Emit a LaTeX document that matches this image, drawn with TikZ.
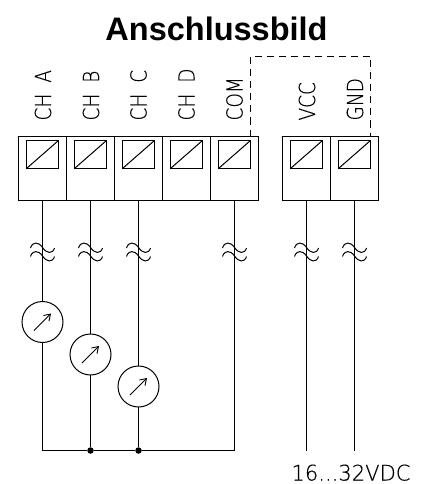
\documentclass[tikz,border=0pt]{standalone}
\usepackage{fontspec}
\setmainfont{Liberation Sans}
\newfontfamily\cadfont[FakeStretch=0.84,FakeBold=0.25]{DejaVu Sans ExtraLight}
\newfontfamily\supplyfont[FakeStretch=0.98,FakeBold=0.25]{DejaVu Sans ExtraLight}
\usetikzlibrary{arrows.meta}
\tikzset{
	terminal/.style={draw, minimum width=48pt, minimum height=64pt, inner sep=0pt, outer sep=0pt},
	clampbox/.style={draw, minimum width=32pt, minimum height=28pt, inner sep=0pt, outer sep=0pt, path picture={\draw (path picture bounding box.south west) -- (path picture bounding box.north east);}},
	meter/.style={draw, circle, minimum size=41pt, inner sep=0pt, outer sep=0pt},
	pinlabel/.style={rotate=90, anchor=base west, inner sep=0pt, font=\cadfont\fontsize{22}{22}\selectfont},
	junction/.style={fill, circle, minimum size=6.5pt, inner sep=0pt},
	wave/.pic={
		\draw (-12,-4) .. controls (-10,-10.5) and (-4,-10.5) .. (0,-4.5) .. controls (4,1.5) and (10,2.5) .. (12,-4);
		\draw (-12,4.5) .. controls (-10,-2) and (-4,-2) .. (0,4) .. controls (4,10) and (10,11) .. (12,4.5);
	}
}
\begin{document}
\begin{tikzpicture}[x=1pt, y=-1pt, line width=1pt]
	\useasboundingbox (0,0) rectangle (421,484);

	\node[inner sep=0pt, font=\bfseries\fontsize{32.5}{33}\selectfont] (title) at (216.5,29) {Anschlussbild};

	% terminal blocks
	\foreach \name/\xpos in {a/42.5, b/90.5, c/138.5, d/186.5, com/234.5, vcc/306.5, gnd/354.5} {
		\node[terminal] (term\name) at (\xpos,168.5) {};
		\node[clampbox] (clamp\name) at (\xpos,154.5) {};
	}

	% labels
	\foreach \name/\xpos/\txt in {a/51/CH\kern11pt A, b/99/CH\kern11pt B, c/146.5/CH\kern11pt C, d/194.5/CH\kern11pt D, com/242.5/COM, vcc/315/VCC, gnd/363/GND}
		\node[pinlabel] (label\name) at (\xpos,121) {\txt};

	% bridge
	\coordinate (bridgeL) at (250.5,56.5);
	\coordinate (bridgeR) at (370.5,56.5);
	\draw[dash pattern=on 7pt off 5pt] (termcom.north -| clampcom.east) -- (bridgeL) -- (bridgeR) -- (termgnd.north -| clampgnd.east);

	% meters
	\node[meter] (metera) at (42.5,322) {};
	\node[meter] (meterb) at (90.5,354.5) {};
	\node[meter] (meterc) at (138.5,386.5) {};
	\foreach \name in {a, b, c}
		\draw[-{Straight Barb[length=6pt, width=8pt]}, line width=0.9pt] ([shift={(-8.5,8.5)}]meter\name.center) -- ([shift={(8.5,-8.5)}]meter\name.center);

	% bottom ends
	\coordinate (enda) at (42.5,450.5);
	\node[junction] (endb) at (90.5,450.5) {};
	\node[junction] (endc) at (138.5,450.5) {};
	\coordinate (endcom) at (234.5,450.5);
	\coordinate (endvcc) at (306.5,450.5);
	\coordinate (endgnd) at (354.5,450.5);

	% wires
	\foreach \name in {a, b, c} {
		\draw (term\name.south) -- (meter\name.north);
		\draw (meter\name.south) -- (end\name);
	}
	\foreach \name in {com, vcc, gnd}
		\draw (term\name.south) -- (end\name);
	\draw (enda) -- (endb) -- (endc) -- (endcom);

	\foreach \xpos in {42.5, 90.5, 138.5, 234.5, 306.5, 354.5}
		\pic at (\xpos,252) {wave};

	\node[anchor=base west, inner sep=0pt, font=\supplyfont\fontsize{21.5}{22}\selectfont] (supply) at (291,480.5) {16...32VDC};
\end{tikzpicture}
\end{document}
